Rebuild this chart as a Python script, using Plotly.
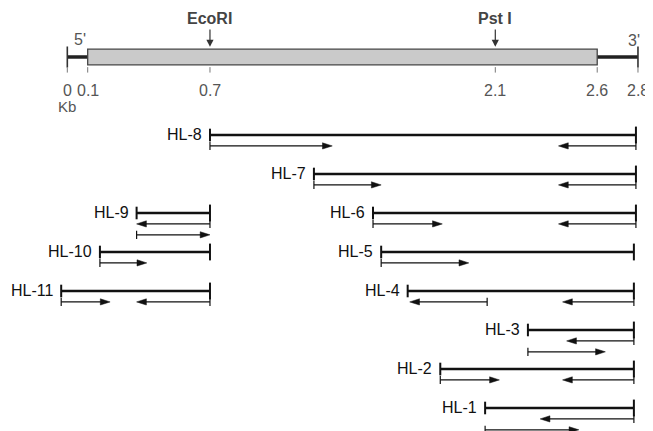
import plotly.graph_objects as go

# ---------------- data ----------------
map_tick_kb = [0, 0.1, 0.7, 2.1, 2.6, 2.8]
map_tick_labels = ["0", "0.1", "0.7", "2.1", "2.6", "2.8"]
coding_start, coding_end = 0.1, 2.6
map_start, map_end = 0.0, 2.8
site_names = ["EcoRI", "Pst I"]
site_kb = [0.7, 2.1]

frag_names = ["HL-8", "HL-7", "HL-6", "HL-5", "HL-4", "HL-3", "HL-2", "HL-1",
              "HL-9", "HL-10", "HL-11"]
frag_start = [0.70, 1.21, 1.50, 1.54, 1.67, 2.26, 1.83, 2.05, 0.34, 0.16, -0.03]
frag_end = [2.79, 2.79, 2.79, 2.78, 2.78, 2.78, 2.78, 2.78, 0.70, 0.70, 0.70]
# sequencing runs per fragment: (from kb, to kb, sub-row)
frag_runs = [
    [(0.70, 1.30, 1), (2.79, 2.41, 1)],
    [(1.21, 1.54, 1), (2.79, 2.41, 1)],
    [(1.50, 1.84, 1), (2.79, 2.41, 1)],
    [(1.54, 1.97, 1)],
    [(2.06, 1.68, 1), (2.78, 2.43, 1)],
    [(2.78, 2.45, 1), (2.26, 2.64, 2)],
    [(1.83, 2.12, 1), (2.78, 2.43, 1)],
    [(2.78, 2.32, 1), (2.05, 2.51, 2)],
    [(0.70, 0.34, 1), (0.34, 0.70, 2)],
    [(0.16, 0.39, 1)],
    [(-0.03, 0.21, 1), (0.70, 0.34, 1)],
]

# ---------------- layout helpers ----------------
frag_track = [0, 1, 2, 3, 4, 5, 6, 7, 2, 3, 4]
MAP_Y = -2.0
SUB_DY = 0.28
HEAD_LEN = 0.048   # kb
HEAD_HALF = 0.08   # track units
INK = "#111111"
FONT = "Liberation Sans, Arial, sans-serif"

fig = go.Figure()

# backbone (flanking lines)
fig.add_trace(go.Scatter(x=[map_start, coding_start, None, coding_end, map_end],
                         y=[MAP_Y, MAP_Y, None, MAP_Y, MAP_Y], mode="lines",
                         line=dict(color="#222", width=3.5), hoverinfo="skip"))
fig.add_trace(go.Scatter(x=[map_start, map_end], y=[MAP_Y, MAP_Y], mode="markers",
                         marker=dict(symbol="line-ns", size=15, line=dict(width=1.6, color="#333")),
                         hoverinfo="skip"))
fig.add_shape(type="rect", x0=coding_start, x1=coding_end, y0=MAP_Y - 0.2, y1=MAP_Y + 0.2,
              fillcolor="#cacaca", line=dict(color="#444", width=1.3), layer="above")

# small ticks under the map
tx, ty = [], []
for k in map_tick_kb:
    tx += [k, k, None]
    ty += [MAP_Y + 0.26, MAP_Y + 0.4, None]
fig.add_trace(go.Scatter(x=tx, y=ty, mode="lines", line=dict(color="#777", width=1),
                         hoverinfo="skip"))
for k, lab in zip(map_tick_kb, map_tick_labels):
    fig.add_annotation(x=k, y=MAP_Y + 0.85, text=lab, showarrow=False,
                       font=dict(family=FONT, size=16, color="#555"))
fig.add_annotation(x=map_start, y=MAP_Y + 1.27, text="Kb", showarrow=False,
                   font=dict(family=FONT, size=15, color="#555"))
fig.add_annotation(x=0.06, y=MAP_Y - 0.46, text="5'", showarrow=False,
                   font=dict(family=FONT, size=16, color="#555"))
fig.add_annotation(x=2.78, y=MAP_Y - 0.42, text="3'", showarrow=False,
                   font=dict(family=FONT, size=16, color="#555"))

# restriction sites
for name, k in zip(site_names, site_kb):
    fig.add_annotation(x=k, y=MAP_Y - 0.26, ax=k, ay=MAP_Y - 0.74, axref="x", ayref="y",
                       xref="x", yref="y", showarrow=True, arrowhead=2, arrowsize=1.2,
                       arrowwidth=1.2, arrowcolor="#333", text="")
    fig.add_annotation(x=k, y=MAP_Y - 0.98, text="<b>" + name + "</b>", showarrow=False,
                       font=dict(family=FONT, size=16, color="#444"))

# fragments
mx, my = [], []
for s, e, t in zip(frag_start, frag_end, frag_track):
    mx += [s, e, None]
    my += [t, t, None]
fig.add_trace(go.Scatter(x=mx, y=my, mode="lines", line=dict(color=INK, width=2.4),
                         hoverinfo="skip"))
fig.add_trace(go.Scatter(x=frag_start, y=frag_track, mode="markers",
                         marker=dict(symbol="line-ns", size=9, line=dict(width=2, color=INK)),
                         hoverinfo="skip"))
fig.add_trace(go.Scatter(x=frag_end, y=frag_track, mode="markers",
                         marker=dict(symbol="line-ns", size=12, line=dict(width=2, color=INK)),
                         hoverinfo="skip"))
for name, s, t in zip(frag_names, frag_start, frag_track):
    fig.add_annotation(x=s, y=t, text=name, showarrow=False, xanchor="right", xshift=-6,
                       font=dict(family=FONT, size=16, color=INK))

# sequencing runs
sx, sy, tkx, tky, hx, hy = [], [], [], [], [], []
for runs, t in zip(frag_runs, frag_track):
    for a, b, lvl in runs:
        y = t + SUB_DY * lvl
        d = 1 if b > a else -1
        sx += [a, b - d * HEAD_LEN * 0.5, None]
        sy += [y, y, None]
        tkx.append(a)
        tky.append(y)
        hx += [b, b - d * HEAD_LEN, b - d * HEAD_LEN, b, None]
        hy += [y, y - HEAD_HALF, y + HEAD_HALF, y, None]
fig.add_trace(go.Scatter(x=sx, y=sy, mode="lines", line=dict(color=INK, width=1.3),
                         hoverinfo="skip"))
fig.add_trace(go.Scatter(x=tkx, y=tky, mode="markers",
                         marker=dict(symbol="line-ns", size=6, line=dict(width=1.2, color=INK)),
                         hoverinfo="skip"))
fig.add_trace(go.Scatter(x=hx, y=hy, mode="lines", fill="toself", fillcolor=INK,
                         line=dict(color=INK, width=0.5), hoverinfo="skip"))

fig.update_layout(
    width=653, height=431, margin=dict(l=0, r=0, t=0, b=0),
    plot_bgcolor="white", paper_bgcolor="white", showlegend=False,
    xaxis=dict(range=[-0.291, 2.913], visible=False, fixedrange=True),
    yaxis=dict(range=[7.795, -3.256], visible=False, fixedrange=True),
)
fig.write_html("out.html")
